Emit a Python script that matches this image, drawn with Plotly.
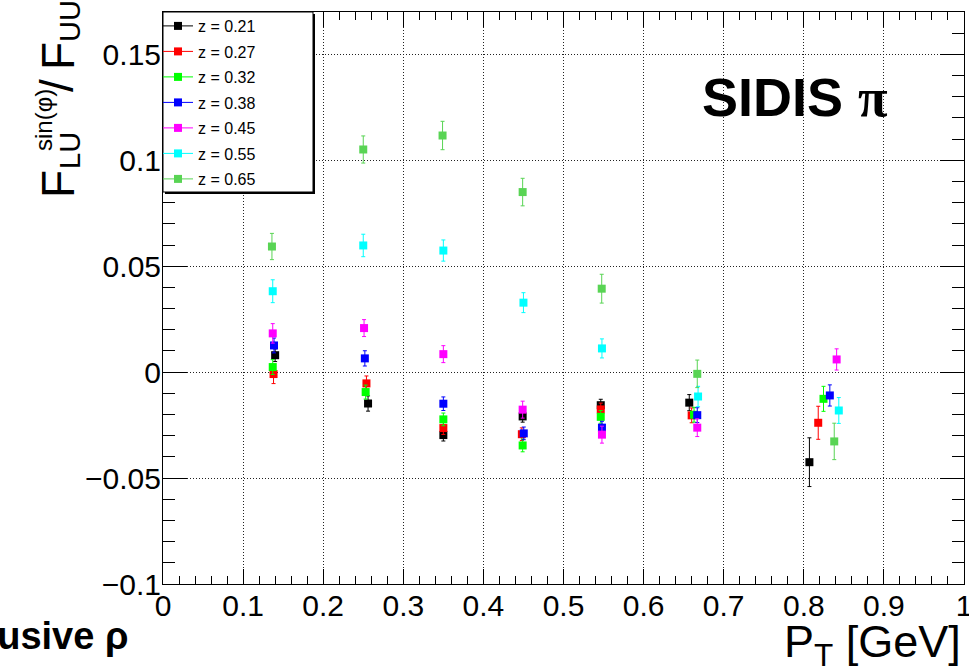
import plotly.graph_objects as go

# ---------------- data ----------------
z_labels = ["z = 0.21", "z = 0.27", "z = 0.32", "z = 0.38", "z = 0.45", "z = 0.55", "z = 0.65"]
colors = ["#000000", "#ff0000", "#00ff00", "#0000ff", "#ff00ff", "#00ffff", "#59d454"]

pt_z021 = [0.140, 0.256, 0.350, 0.449, 0.5465, 0.657, 0.807]
val_z021 = [0.0080, -0.0148, -0.0297, -0.0209, -0.0156, -0.0144, -0.0425]
err_z021 = [0.0030, 0.0036, 0.0028, 0.0027, 0.0028, 0.0038, 0.0115]

pt_z027 = [0.138, 0.254, 0.350, 0.448, 0.5465, 0.660, 0.818]
val_z027 = [-0.0009, -0.0053, -0.0264, -0.0293, -0.0176, -0.0204, -0.0239]
err_z027 = [0.0045, 0.0035, 0.0030, 0.0030, 0.0030, 0.0035, 0.0078]

pt_z032 = [0.137, 0.253, 0.350, 0.449, 0.5465, 0.663, 0.8246]
val_z032 = [0.0024, -0.0094, -0.0223, -0.0346, -0.0211, -0.0201, -0.0126]
err_z032 = [0.0035, 0.0033, 0.0030, 0.0030, 0.0030, 0.0035, 0.0059]

pt_z038 = [0.1386, 0.252, 0.350, 0.4504, 0.548, 0.667, 0.8325]
val_z038 = [0.0126, 0.0065, -0.0149, -0.0289, -0.0262, -0.0203, -0.0110]
err_z038 = [0.0035, 0.0036, 0.0032, 0.0030, 0.0030, 0.0035, 0.0050]

pt_z045 = [0.137, 0.251, 0.350, 0.449, 0.548, 0.667, 0.841]
val_z045 = [0.0183, 0.0208, 0.0085, -0.0177, -0.0295, -0.0262, 0.0060]
err_z045 = [0.0046, 0.0040, 0.0040, 0.0040, 0.0040, 0.0042, 0.0050]

pt_z055 = [0.137, 0.250, 0.350, 0.450, 0.548, 0.668, 0.8437]
val_z055 = [0.0382, 0.0598, 0.0574, 0.0328, 0.0112, -0.0115, -0.0181]
err_z055 = [0.0054, 0.0053, 0.0050, 0.0047, 0.0045, 0.0048, 0.0061]

pt_z065 = [0.136, 0.250, 0.349, 0.449, 0.5477, 0.667, 0.838]
val_z065 = [0.0593, 0.1051, 0.1117, 0.0850, 0.0394, -0.0008, -0.0327]
err_z065 = [0.0062, 0.0064, 0.0067, 0.0065, 0.0068, 0.0065, 0.0086]

series_pt = [pt_z021, pt_z027, pt_z032, pt_z038, pt_z045, pt_z055, pt_z065]
series_val = [val_z021, val_z027, val_z032, val_z038, val_z045, val_z055, val_z065]
series_err = [err_z021, err_z027, err_z032, err_z038, err_z045, err_z055, err_z065]

x_tickvals = [0, 0.1, 0.2, 0.3, 0.4, 0.5, 0.6, 0.7, 0.8, 0.9, 1.0]
x_ticktext = ["0", "0.1", "0.2", "0.3", "0.4", "0.5", "0.6", "0.7", "0.8", "0.9", "1"]
y_tickvals = [-0.1, -0.05, 0, 0.05, 0.1, 0.15]
y_ticktext = ["\u22120.1", "\u22120.05", "0", "0.05", "0.1", "0.15"]

# ---------------- layout constants ----------------
W, H = 969, 671
L, R, T, B = 163, 5, 12, 87
PW, PH = W - L - R, H - T - B
FONT = "Liberation Sans, Arial, Helvetica, sans-serif"


def px(xp):
    return (xp - L) / PW


def py(yp):
    return (H - B - yp) / PH


fig = go.Figure()

for name, col, xs, ys, es in zip(z_labels, colors, series_pt, series_val, series_err):
    fig.add_trace(go.Scatter(
        x=xs, y=ys, mode="markers", name=name, showlegend=False,
        marker=dict(symbol="square", size=8, color=col, line=dict(width=0)),
        error_y=dict(type="data", array=es, visible=True, color=col, thickness=1, width=2),
    ))
    # legend entry (line + marker like ROOT "lep" style)
    fig.add_trace(go.Scatter(
        x=[None], y=[None], mode="lines+markers", name=name, legendgroup=name,
        marker=dict(symbol="square", size=8, color=col),
        line=dict(color=col, width=1),
    ))

axis_common = dict(
    showline=True, linecolor="black", linewidth=1, mirror="allticks",
    ticks="inside", tickcolor="black", tickwidth=1,
    showgrid=True, gridcolor="#222222", gridwidth=1, griddash="1px,2px",
    zeroline=False, automargin=False, ticklabeloverflow="allow",
    tickfont=dict(family=FONT, size=30, color="black"),
)

fig.update_xaxes(
    range=[0, 1.000001], tickmode="array", tickvals=x_tickvals, ticktext=x_ticktext,
    ticklen=15, ticklabelstandoff=-5,
    minor=dict(ticks="inside", ticklen=8, dtick=0.02, tick0=0, tickcolor="black", showgrid=False),
    **axis_common,
)
fig.update_yaxes(
    range=[-0.1, 0.17], tickmode="array", tickvals=y_tickvals, ticktext=y_ticktext,
    ticklen=24, ticklabelstandoff=-5,
    minor=dict(ticks="inside", ticklen=12, dtick=0.01, tick0=0, tickcolor="black", showgrid=False),
    **axis_common,
)

annotations = []


def ann(text, xp, yp, size, angle=0, bold=False, xanchor="center", yanchor="middle", family=FONT):
    t = f"<b>{text}</b>" if bold else text
    annotations.append(dict(
        text=t, x=px(xp), y=py(yp), xref="paper", yref="paper",
        xanchor=xanchor, yanchor=yanchor, showarrow=False, textangle=angle,
        font=dict(family=family, size=size, color="black"),
    ))


# y-axis title built from pieces (ROOT-like stacked sub/superscript)
ann("F", 58, 184, 46, angle=-90)
ann("LU", 70, 151, 29, angle=-90)
ann("sin(\u03c6)", 43, 120, 24, angle=-90)
ann("/", 57, 86, 46, angle=-90)
ann("F", 58, 56, 46, angle=-90)
ann("UU", 70, 21, 29, angle=-90)

# x-axis title
annotations.append(dict(
    text="P<sub>T</sub> [GeV]", x=px(963), y=py(644), xref="paper", yref="paper",
    xanchor="right", yanchor="middle", showarrow=False,
    font=dict(family=FONT, size=45, color="black"),
))

# labels
annotations.append(dict(
    text="<b>SIDIS</b> <span style='font-family:Liberation Serif, serif'><b>\u03c0</b></span>",
    x=px(700), y=py(98), xref="paper", yref="paper", xanchor="left", yanchor="middle",
    showarrow=False, font=dict(family=FONT, size=54, color="black"),
))
annotations.append(dict(
    text="<b>Exclusive \u03c1</b>", x=px(130), y=py(636), xref="paper", yref="paper",
    xanchor="right", yanchor="middle", showarrow=False,
    font=dict(family=FONT, size=38, color="black"),
))

# legend box with ROOT-style shadow
shapes = [
    dict(type="rect", xref="paper", yref="paper", x0=px(165), x1=px(315), y0=py(194), y1=py(14),
         fillcolor="black", line=dict(width=0), layer="above"),
    dict(type="rect", xref="paper", yref="paper", x0=px(163), x1=px(313), y0=py(192), y1=py(12),
         fillcolor="white", line=dict(color="black", width=1), layer="above"),
]

fig.update_layout(
    width=W, height=H,
    margin=dict(l=L, r=R, t=T, b=B, autoexpand=False),
    paper_bgcolor="white", plot_bgcolor="white",
    font=dict(family=FONT, color="black"),
    annotations=annotations,
    shapes=shapes,
    legend=dict(
        x=px(158), y=py(9), xanchor="left", yanchor="top",
        bgcolor="rgba(0,0,0,0)", borderwidth=0,
        font=dict(family=FONT, size=16, color="black"),
        tracegroupgap=1.7, itemwidth=30,
    ),
)

fig.write_html(
    "out.html",
    config={"displayModeBar": False},
    post_script="document.body.style.margin='0';document.body.style.padding='0';",
)
